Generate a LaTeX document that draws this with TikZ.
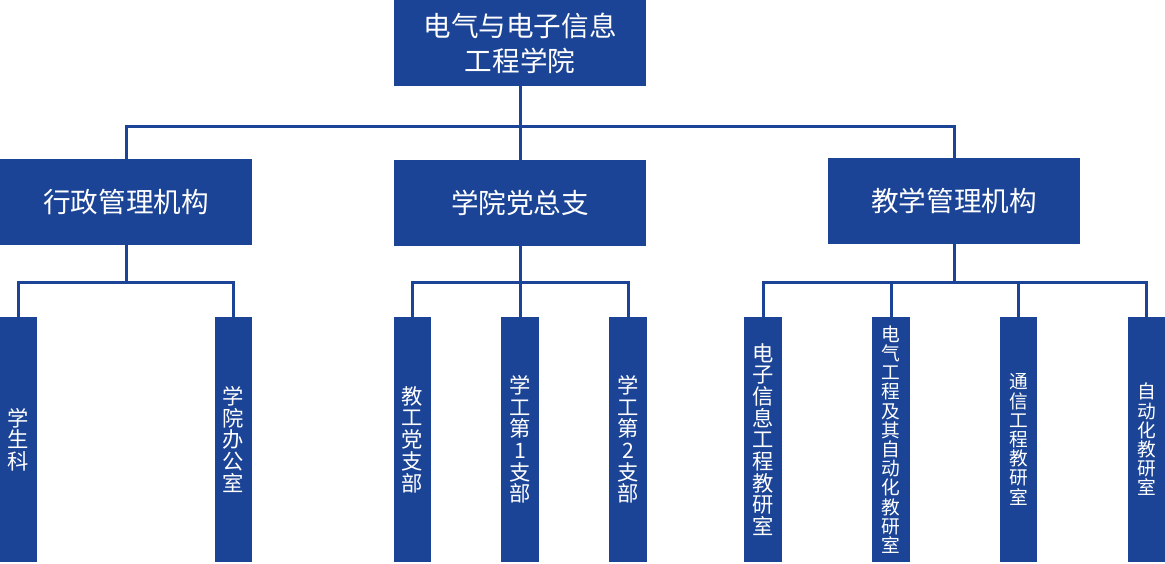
\documentclass[tikz,border=0pt]{standalone}
\usepackage{fontspec}
\newfontfamily\cjk{Noto Sans CJK SC}
\definecolor{unitblue}{RGB}{28,68,150}

\begin{document}
\begin{tikzpicture}[
  x=1pt, y=-1pt,
  every node/.append style={font=\cjk, text=white},
  link/.style={draw=unitblue, line width=3pt},
  headbox/.style={fill=unitblue, minimum width=252pt, minimum height=86pt,
    align=center, inner sep=0pt, font=\cjk\fontsize{27.6}{35}\selectfont},
  postbox/.style={fill=unitblue, minimum width=37.5pt, minimum height=245pt,
    align=center, inner sep=0pt, font=\cjk\fontsize{21.3}{21.7}\selectfont},
  smallpost/.style={postbox, font=\cjk\fontsize{18.7}{19.2}\selectfont},
]
\useasboundingbox (0,0) rectangle (1165,563);

% ------------------------------------------------------------ the college
\node[headbox] (college) at (520,43) {电气与电子信息\\工程学院};

% ------------------------------------------------------- the three wings
\node[headbox] (admin) at (126,202) {行政管理机构};
\node[headbox] (party) at (520,203) {学院党总支};
\node[headbox] (teach) at (954,201) {教学管理机构};

\coordinate (busTop) at (520,126);
\draw[link] (college.south) -- (party.north);
\draw[link] (admin.north) |- (busTop) -| (teach.north);

% ------------------------------------------------------ the offices below
% Names stand upright, one character to a line.
\node[postbox] (students) at (18.5,439.5) {学\\生\\科};
\node[postbox] (office) at (233.5,439.5) {学\\院\\办\\公\\室};

\node[postbox] (staffbranch) at (412.5,439.5) {教\\工\\党\\支\\部};
\node[postbox] (branchone) at (520,439.5) {学\\工\\第\\1\\支\\部};
\node[postbox] (branchtwo) at (628,439.5) {学\\工\\第\\2\\支\\部};

\node[postbox] (eleinfo) at (763,439.5)
  {电\\子\\信\\息\\工\\程\\教\\研\\室};
\node[smallpost] (eleeng) at (891,439.5)
  {电\\气\\工\\程\\及\\其\\自\\动\\化\\教\\研\\室};
\node[smallpost] (comms) at (1018.5,439.5) {通\\信\\工\\程\\教\\研\\室};
\node[smallpost] (autom) at (1146.5,439.5) {自\\动\\化\\教\\研\\室};

% ---------------------------------------------------------- the branches
\coordinate (busAdmin) at (126,282);
\coordinate (busParty) at (520,282);
\coordinate (busTeach) at (954,282);

\draw[link] (admin.south) -- (busAdmin);
\draw[link] (students.north) |- (busAdmin) -| (office.north);

\draw[link] (party.south) -- (branchone.north);
\draw[link] (staffbranch.north) |- (busParty) -| (branchtwo.north);

\draw[link] (teach.south) -- (busTeach);
\draw[link] (eleinfo.north) |- (busTeach) -| (autom.north);
\draw[link] (eleeng.north) -- (eleeng.north |- busTeach);
\draw[link] (comms.north) -- (comms.north |- busTeach);

\end{tikzpicture}
\end{document}
